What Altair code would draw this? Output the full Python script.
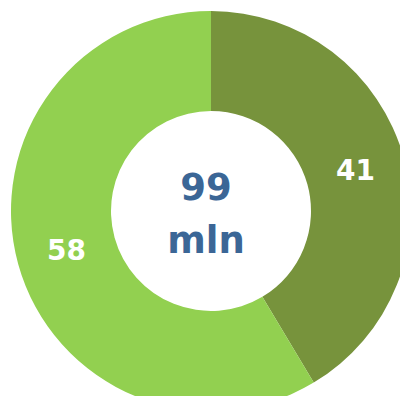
import altair as alt
import pandas as pd

categories = ["A", "B"]
values = [41, 58]
order = [0, 1]
colors = ["#77933C", "#92D050"]
center_lines = ["99", "mln"]

df = pd.DataFrame({"cat": categories, "value": values, "ord": order})

cx, cy = 203, 203

base = alt.Chart(df).encode(
    theta=alt.Theta("value:Q", stack=True),
    order=alt.Order("ord:Q"),
    x=alt.value(cx),
    y=alt.value(cy),
)

arcs = base.mark_arc(outerRadius=200, innerRadius=100, stroke=None).encode(
    color=alt.Color("cat:N", scale=alt.Scale(domain=categories, range=colors), legend=None)
)

labels = base.mark_text(
    radius=150, font="DejaVu Sans", fontWeight="bold", fontSize=28,
    color="white", baseline="middle", align="center", dy=1
).encode(text=alt.Text("value:Q"))

ct = pd.DataFrame({"t": center_lines, "yy": [192, 245]})
center = alt.Chart(ct).mark_text(
    font="DejaVu Sans", fontWeight="bold", fontSize=37, color="#3B6696",
    baseline="alphabetic", align="center"
).encode(text="t:N", x=alt.value(cx - 5), y=alt.Y("yy:Q", scale=None))

chart = alt.layer(arcs, labels, center).properties(
    width=392, height=388, autosize=alt.AutoSizeParams(type="none"), padding=0
).configure_view(stroke=None)

chart.save("out.html", embed_options={"renderer": "svg", "actions": False})
